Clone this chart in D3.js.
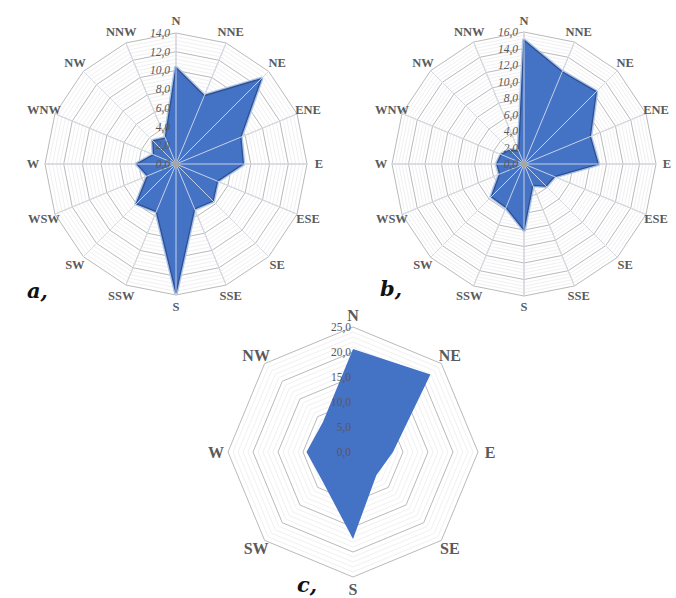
<!DOCTYPE html>
<meta charset="utf-8">
<style>
body { margin: 0; background: #fff; }
.dir { font-family: "Liberation Serif", serif; fill: #5a5a5a; }
.tick { font-family: "Liberation Serif", serif; fill: #595959; font-size: 11.5px; }
.panel { font-family: "DejaVu Serif", serif; font-weight: bold; font-style: italic; font-size: 21px; fill: #111; }
</style>
<body>
<script src="https://cdnjs.cloudflare.com/ajax/libs/d3/7.8.5/d3.min.js"></script>
<script>

// wind directions
var dirs16 = ["N","NNE","NE","ENE","E","ESE","SE","SSE","S","SSW","SW","WSW","W","WNW","NW","NNW"];
var dirs8 = ["N","NE","E","SE","S","SW","W","NW"];

// frequencies
var valuesA = [10.3, 7.9, 12.9, 7.5, 7.2, 4.8, 5.6, 5.2, 13.8, 5.5, 6.0, 3.3, 4.2, 2.6, 3.5, 3.0];
var valuesB = [15.0, 12.1, 12.4, 8.7, 9.0, 4.0, 3.8, 2.8, 8.0, 5.7, 5.6, 3.2, 3.3, 3.0, 2.4, 1.7];
var valuesC = [20.6, 21.9, 8.0, 6.6, 17.4, 8.5, 9.3, 8.5];

// axis ticks
var ticksA = [0, 2, 4, 6, 8, 10, 12, 14];
var ticksB = [0, 2, 4, 6, 8, 10, 12, 14, 16];
var ticksC = [0, 5, 10, 15, 20, 25];

var svg = d3.select("body").append("svg")
    .attr("width", 676)
    .attr("height", 598);

var fmt = function(v) { return d3.format(".1f")(v).replace(".", ","); };

function radar(opt) {
  var n = opt.dirs.length;
  var maxV = opt.ticks[opt.ticks.length - 1];
  var r = d3.scaleLinear().domain([0, maxV]).range([0, opt.radius]);
  var a = d3.scaleLinear().domain([0, n]).range([0, 2 * Math.PI]);

  var g = svg.append("g")
      .attr("transform", "translate(" + opt.cx + "," + opt.cy + ")");

  var ring = d3.lineRadial()
      .angle(function(d, i) { return a(i); })
      .radius(function(d) { return r(d); })
      .curve(d3.curveLinearClosed);

  // minor rings
  var step = opt.ticks[1] - opt.ticks[0];
  var minor = d3.range(step / 5, maxV, step / 5).filter(function(v) {
    return Math.abs(v / step - Math.round(v / step)) > 0.01;
  });
  g.selectAll(".minor").data(minor).enter().append("path")
      .attr("d", function(v) { return ring(opt.dirs.map(function() { return v; })); })
      .attr("fill", "none")
      .attr("stroke", "#ececec")
      .attr("stroke-width", 0.8);

  // major rings
  g.selectAll(".major").data(opt.ticks.slice(1)).enter().append("path")
      .attr("d", function(v) { return ring(opt.dirs.map(function() { return v; })); })
      .attr("fill", "none")
      .attr("stroke", "#bababa")
      .attr("stroke-width", 1);

  var spokes = function(color) {
    g.selectAll(null).data(opt.dirs).enter().append("line")
        .attr("x1", 0).attr("y1", 0)
        .attr("x2", function(d, i) { return r(maxV) * Math.sin(a(i)); })
        .attr("y2", function(d, i) { return -r(maxV) * Math.cos(a(i)); })
        .attr("stroke", color)
        .attr("stroke-width", 1);
  };
  if (opt.spokes) spokes("#bababa");

  // data area
  if (opt.outline) {
    g.append("path")
        .attr("d", ring(opt.values))
        .attr("fill", "none")
        .attr("stroke", "#a9c4ea")
        .attr("stroke-width", 4)
        .attr("stroke-linejoin", "round");
  }
  g.append("path")
      .attr("d", ring(opt.values))
      .attr("fill", "#4472c4")
      .attr("stroke", opt.outline ? "#2f4f8f" : "none")
      .attr("stroke-width", 1.3)
      .attr("stroke-linejoin", "miter");

  if (opt.spokes) {
    spokes("rgba(220,226,236,0.85)");
    g.append("circle").attr("r", 3.5).attr("fill", "#a6a6a6");
  }

  // tick labels along the N axis
  g.selectAll(".tick").data(opt.ticks).enter().append("text")
      .attr("class", "tick")
      .attr("x", opt.tickX)
      .attr("y", function(v) { return -r(v); })
      .attr("dy", "0.35em")
      .attr("text-anchor", "end")
      .style("font-style", opt.italic ? "italic" : "normal")
      .text(fmt);

  // direction labels
  g.selectAll(".dir").data(opt.dirs).enter().append("text")
      .attr("class", "dir")
      .attr("x", function(d, i) { return opt.labelR * Math.sin(a(i)); })
      .attr("y", function(d, i) { return -opt.labelR * Math.cos(a(i)); })
      .attr("dy", "0.35em")
      .attr("text-anchor", "middle")
      .style("font-size", opt.fontSize + "px")
      .style("font-weight", "bold")
      .text(function(d) { return d; });

  svg.append("text")
      .attr("class", "panel")
      .attr("x", opt.px)
      .attr("y", opt.py)
      .text(opt.panel);
}

radar({ dirs: dirs16, values: valuesA, ticks: ticksA, cx: 176, cy: 164, radius: 131,
        labelR: 143, fontSize: 12.5, tickX: -6, italic: true, spokes: true, outline: true,
        panel: "a,", px: 27, py: 298 });
radar({ dirs: dirs16, values: valuesB, ticks: ticksB, cx: 524, cy: 164, radius: 132,
        labelR: 143, fontSize: 12.5, tickX: -6, italic: true, spokes: true, outline: true,
        panel: "b,", px: 380, py: 296 });
radar({ dirs: dirs8, values: valuesC, ticks: ticksC, cx: 353, cy: 452, radius: 125,
        labelR: 137, fontSize: 16, tickX: -2, italic: false, spokes: false, outline: false,
        panel: "c,", px: 297, py: 592 });

</script>
</body>
